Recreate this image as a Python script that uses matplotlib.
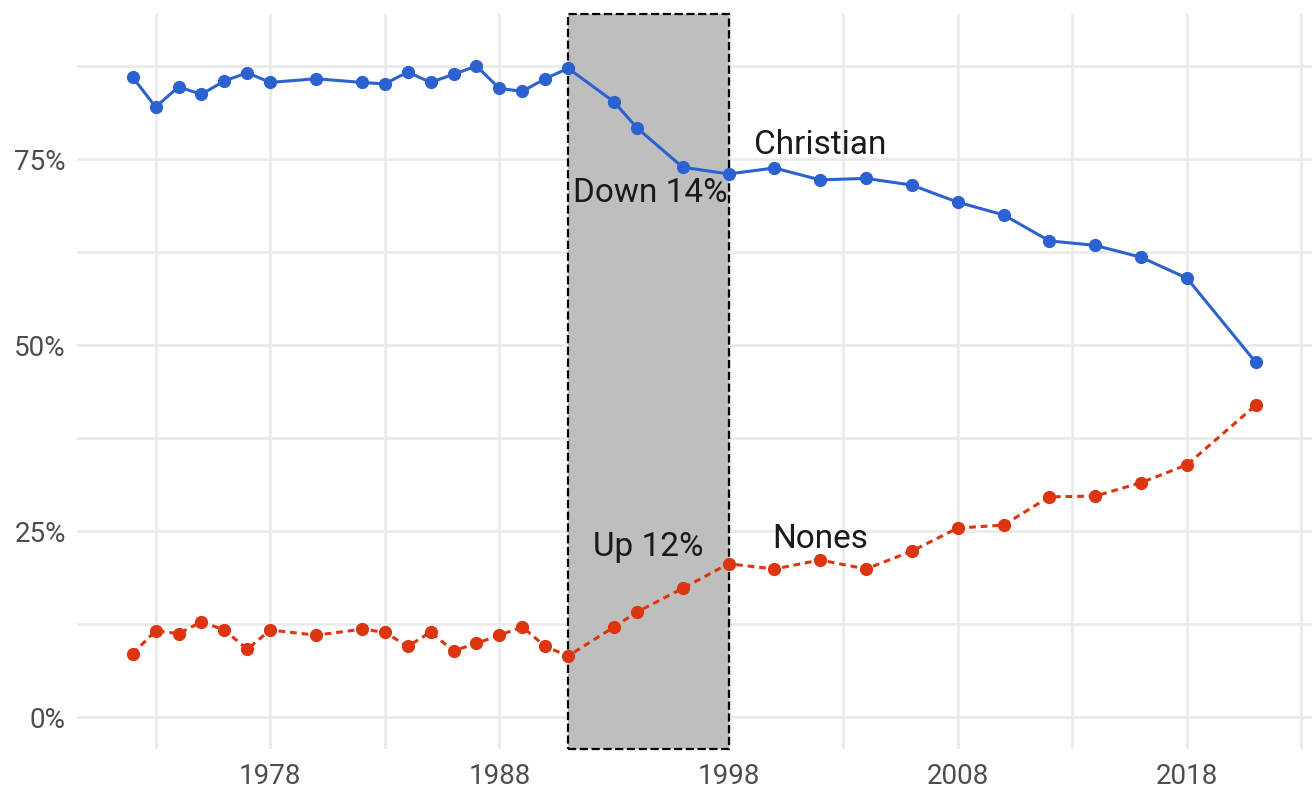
import matplotlib
matplotlib.use("Agg")
import matplotlib.pyplot as plt
from matplotlib.patches import Rectangle
from matplotlib.ticker import FixedLocator, FuncFormatter

years = [1972, 1973, 1974, 1975, 1976, 1977, 1978, 1980, 1982, 1983, 1984,
         1985, 1986, 1987, 1988, 1989, 1990, 1991, 1993, 1994, 1996, 1998,
         2000, 2002, 2004, 2006, 2008, 2010, 2012, 2014, 2016, 2018, 2021]
christian = [86.0, 82.0, 84.7, 83.7, 85.5, 86.6, 85.3, 85.8, 85.3, 85.1, 86.7,
             85.3, 86.4, 87.5, 84.5, 84.1, 85.8, 87.2, 82.7, 79.2, 73.9, 73.0,
             73.8, 72.2, 72.4, 71.5, 69.2, 67.5, 64.0, 63.4, 61.8, 59.0, 47.7]
nones = [8.5, 11.6, 11.2, 12.8, 11.7, 9.1, 11.7, 11.0, 11.8, 11.4, 9.5,
         11.4, 8.9, 9.9, 11.0, 12.1, 9.5, 8.2, 12.1, 14.1, 17.3, 20.6,
         19.9, 21.1, 19.9, 22.3, 25.4, 25.8, 29.6, 29.7, 31.5, 33.9, 41.9]

shade_start, shade_end = 1991, 1998
x_major = [1978, 1988, 1998, 2008, 2018]
x_minor = [1973, 1983, 1993, 2003, 2013, 2023]
y_major = [0, 25, 50, 75]
y_minor = [12.5, 37.5, 62.5, 87.5]

plt.rcParams['font.family'] = ['Roboto', 'DejaVu Sans']

fig = plt.figure(figsize=(13.12, 7.90), dpi=100)
ax = fig.add_axes([77/1312, 41/790, 1235/1312, 735/790])

blue = '#2b61d1'
red = '#dc3510'
y_lo, y_hi = -4.3, 94.5

# shaded period, spanning the whole panel height
ax.add_patch(Rectangle((shade_start, y_lo), shade_end - shade_start, y_hi - y_lo,
                       facecolor='#bebebe', edgecolor='black', linestyle='--',
                       linewidth=1.6, zorder=2, clip_on=False))

ax.plot(years, christian, '-o', color=blue, lw=2.2, ms=8.5, zorder=3)
ax.plot(years, nones, '--o', color=red, lw=2.2, ms=8.5, zorder=3,
        dashes=(2.2, 1.6))

txt = dict(fontsize=24, color='#1a1a1a', ha='center', va='center', zorder=4)
ax.text(1994.6, 70.4, 'Down 14%', **txt)
ax.text(1994.5, 22.8, 'Up 12%', **txt)
ax.text(2002.0, 76.9, 'Christian', **txt)
ax.text(2002.0, 23.9, 'Nones', **txt)

ax.set_xlim(1969.57, 2023.46)
ax.set_ylim(y_lo, y_hi)
ax.xaxis.set_major_locator(FixedLocator(x_major))
ax.xaxis.set_minor_locator(FixedLocator(x_minor))
ax.yaxis.set_major_locator(FixedLocator(y_major))
ax.yaxis.set_minor_locator(FixedLocator(y_minor))
ax.yaxis.set_major_formatter(FuncFormatter(lambda v, p: f'{v:.0f}%'))
ax.grid(which='both', color='#ebebeb', lw=2.0, zorder=0)
ax.set_axisbelow(True)
ax.tick_params(which='both', length=0, labelsize=20, labelcolor='#4d4d4d')
ax.tick_params(axis='x', pad=10)
ax.tick_params(axis='y', pad=8)
for s in ax.spines.values():
    s.set_visible(False)

fig.savefig('out.png', dpi=100)
